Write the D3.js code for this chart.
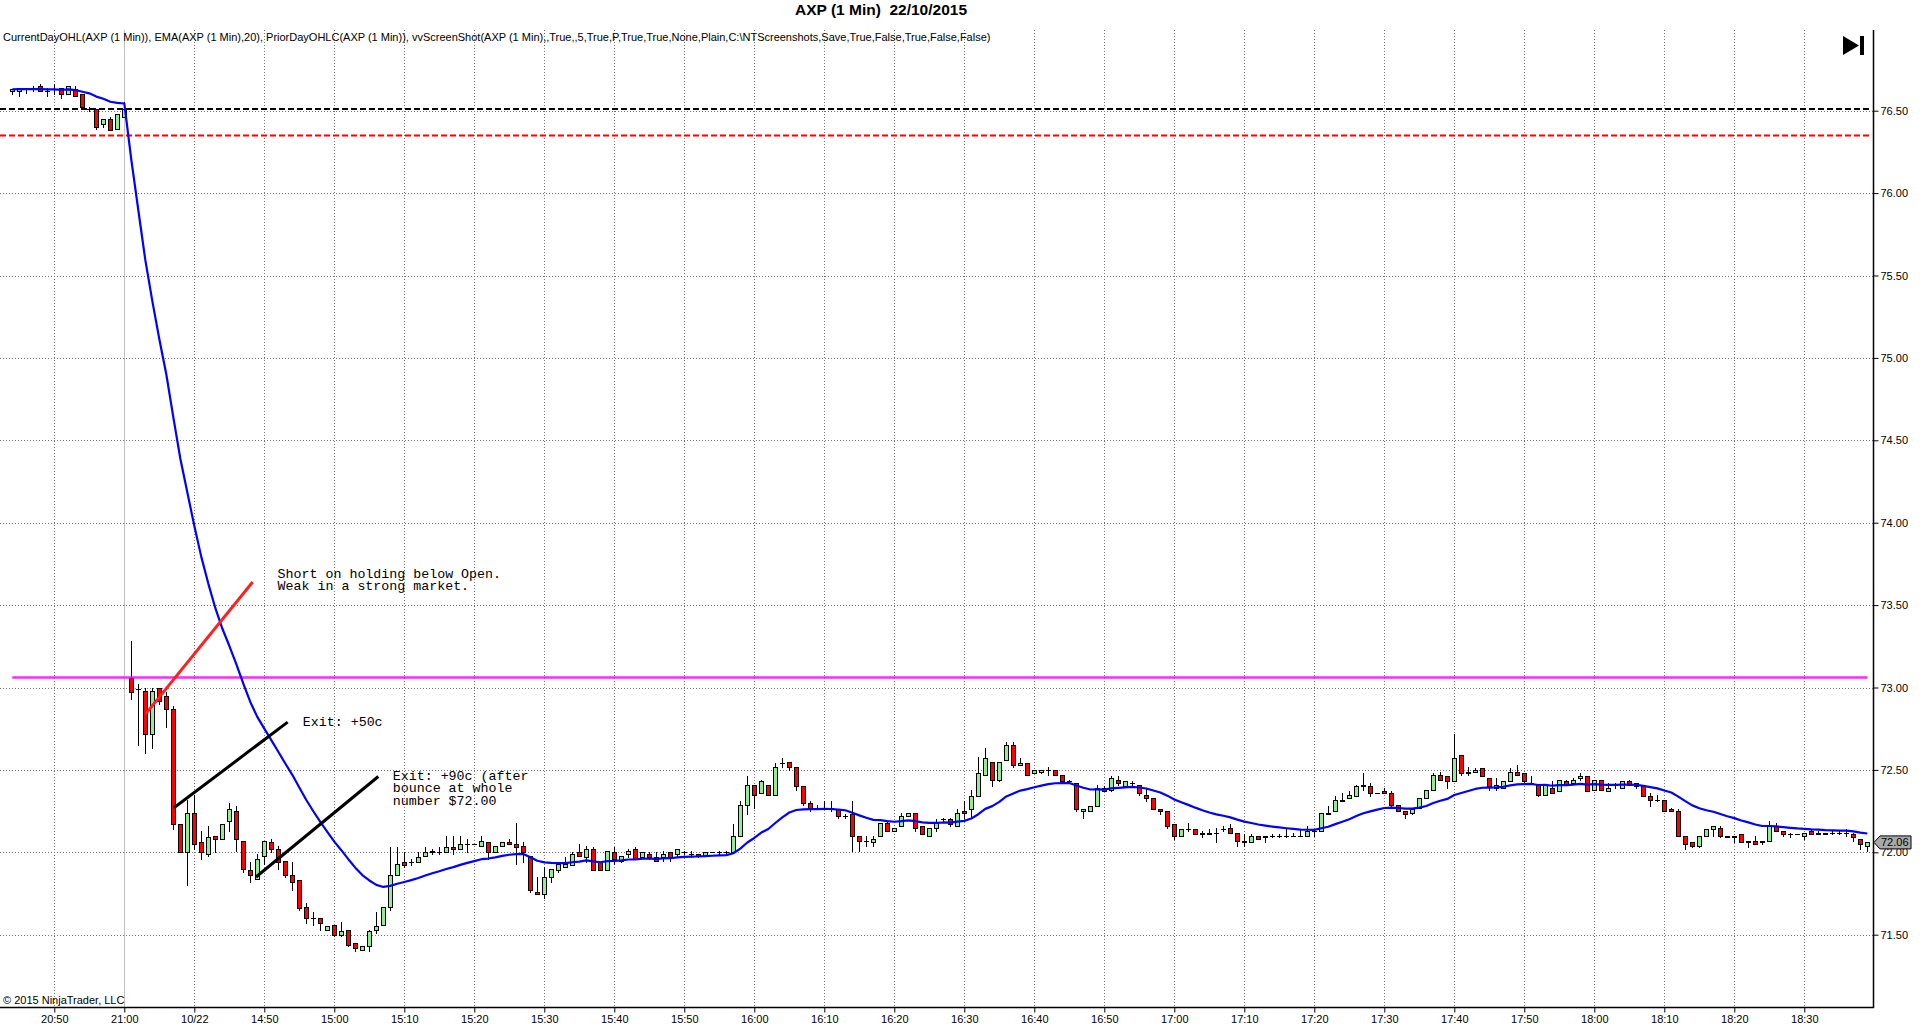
<!DOCTYPE html>
<html>
<head>
<meta charset="utf-8">
<script src="https://cdn.jsdelivr.net/npm/d3@7"></script>
<style>
  body { margin: 0; background: #fff; }
  svg { display: block; font-family: "Liberation Sans", Arial, sans-serif; }
</style>
</head>
<body>
<script>

  // 1 min bars: 20:44-21:00 of the prior session, then 14:31-18:39 on 10/22
  const barOpen = [
    76.62,76.62,76.63,76.64,76.65,76.62,76.63,76.64,76.60,76.63,76.60,76.51,76.51,76.42,76.45,76.39,76.46,
    73.06,72.99,72.98,72.72,73.00,72.95,72.87,72.17,72.00,72.24,
    72.06,71.99,72.10,72.08,72.19,72.25,72.07,71.89,71.84,71.98,
    72.06,72.02,71.95,71.86,71.83,71.67,71.60,71.60,71.53,71.56,
    71.50,71.53,71.45,71.41,71.43,71.53,71.56,71.67,71.86,71.94,
    71.94,71.94,71.98,72.01,72.00,72.00,72.03,72.02,72.05,72.05,
    72.04,72.06,72.00,72.04,72.06,72.05,72.04,71.98,71.76,71.75,
    71.85,71.89,71.91,71.92,72.00,71.97,72.02,71.94,71.89,72.00,
    71.95,71.99,72.02,71.97,71.99,71.97,71.97,72.00,71.99,72.00,
    71.99,71.99,71.98,72.00,72.00,72.00,72.00,72.10,72.29,72.41,
    72.36,72.41,72.35,72.54,72.55,72.52,72.40,72.30,72.27,72.27,
    72.27,72.26,72.22,72.23,72.10,72.07,72.06,72.10,72.18,72.13,
    72.16,72.22,72.24,72.16,72.10,72.15,72.20,72.20,72.16,72.25,
    72.26,72.34,72.47,72.55,72.44,72.56,72.65,72.53,72.54,72.48,
    72.49,72.50,72.50,72.47,72.43,72.42,72.25,72.25,72.28,72.39,
    72.38,72.44,72.40,72.42,72.41,72.35,72.33,72.26,72.25,72.17,
    72.10,72.14,72.14,72.12,72.12,72.12,72.14,72.15,72.12,72.06,
    72.06,72.10,72.09,72.10,72.10,72.10,72.10,72.10,72.10,72.13,
    72.13,72.23,72.25,72.31,72.33,72.34,72.41,72.40,72.36,72.37,
    72.36,72.29,72.25,72.24,72.27,72.33,72.38,72.47,72.46,72.43,
    72.59,72.48,72.49,72.51,72.45,72.39,72.39,72.43,72.49,72.48,
    72.42,72.41,72.35,72.39,72.37,72.43,72.42,72.45,72.46,72.38,
    72.44,72.37,72.41,72.39,72.43,72.42,72.40,72.34,72.32,72.32,
    72.26,72.25,72.10,72.06,72.04,72.10,72.14,72.15,72.10,72.09,
    72.11,72.06,72.07,72.06,72.07,72.16,72.13,72.11,72.11,72.10,
    72.13,72.11,72.12,72.12,72.12,72.12,72.11,72.08,72.04
  ];
  const barHigh = [
    76.63,76.64,76.64,76.65,76.66,76.64,76.66,76.64,76.65,76.65,76.60,76.52,76.51,76.45,76.46,76.48,76.55,
    73.28,73.02,73.00,73.00,73.00,72.97,72.89,72.17,72.32,72.35,
    72.13,72.16,72.10,72.17,72.30,72.28,72.07,71.94,71.99,72.07,
    72.08,72.04,71.95,71.94,71.83,71.69,71.64,71.60,71.55,71.56,
    71.58,71.53,71.45,71.43,71.53,71.64,71.67,72.03,72.03,72.00,
    71.96,72.00,72.03,72.02,72.03,72.10,72.10,72.10,72.08,72.05,
    72.10,72.06,72.04,72.06,72.08,72.18,72.06,71.98,71.85,71.91,
    71.90,71.94,71.97,72.00,72.05,72.04,72.03,71.94,72.01,72.03,
    71.98,72.02,72.03,72.00,72.00,72.00,72.01,72.00,72.02,72.01,
    72.01,71.99,72.00,72.00,72.01,72.01,72.17,72.31,72.46,72.41,
    72.44,72.41,72.54,72.57,72.55,72.52,72.40,72.31,72.29,72.31,
    72.31,72.26,72.23,72.31,72.10,72.10,72.10,72.18,72.19,72.15,
    72.24,72.24,72.24,72.16,72.15,72.20,72.21,72.21,72.26,72.31,
    72.38,72.58,72.63,72.55,72.55,72.67,72.67,72.57,72.54,72.50,
    72.50,72.52,72.50,72.47,72.44,72.42,72.26,72.28,72.41,72.40,
    72.46,72.46,72.43,72.43,72.41,72.39,72.33,72.26,72.25,72.17,
    72.14,72.18,72.14,72.13,72.14,72.15,72.16,72.17,72.12,72.11,
    72.11,72.10,72.10,72.11,72.11,72.14,72.12,72.14,72.16,72.14,
    72.24,72.28,72.34,72.36,72.37,72.41,72.48,72.42,72.36,72.39,
    72.37,72.29,72.25,72.26,72.33,72.38,72.48,72.49,72.46,72.72,
    72.59,72.52,72.51,72.51,72.45,72.45,72.43,72.51,72.53,72.48,
    72.46,72.41,72.41,72.43,72.44,72.44,72.45,72.48,72.46,72.44,
    72.44,72.42,72.42,72.43,72.44,72.42,72.40,72.36,72.35,72.32,
    72.27,72.26,72.10,72.06,72.10,72.14,72.16,72.16,72.10,72.10,
    72.11,72.07,72.10,72.07,72.19,72.18,72.13,72.12,72.11,72.12,
    72.14,72.13,72.12,72.13,72.13,72.14,72.12,72.08,72.06
  ];
  const barLow = [
    76.60,76.59,76.61,76.62,76.62,76.59,76.60,76.58,76.60,76.59,76.51,76.50,76.39,76.40,76.38,76.39,76.46,
    72.93,72.65,72.60,72.63,72.90,72.76,72.14,72.00,71.80,72.02,
    71.96,71.98,72.00,72.08,72.13,72.01,71.88,71.82,71.84,71.93,
    72.00,71.90,71.85,71.77,71.65,71.57,71.56,71.53,71.53,71.49,
    71.49,71.43,71.40,71.41,71.40,71.51,71.56,71.65,71.86,71.91,
    71.92,71.94,71.98,71.99,71.99,72.00,71.99,72.02,72.00,72.05,
    72.04,71.96,72.00,72.04,72.05,71.93,71.94,71.76,71.75,71.72,
    71.82,71.88,71.91,71.92,71.98,71.94,71.89,71.89,71.89,71.93,
    71.94,71.97,71.96,71.97,71.96,71.95,71.95,71.95,71.98,71.99,
    71.97,71.97,71.98,72.00,71.99,71.99,72.00,72.10,72.23,72.27,
    72.36,72.35,72.35,72.52,72.50,72.38,72.29,72.25,72.26,72.26,
    72.25,72.21,72.21,72.01,72.01,72.04,72.04,72.10,72.13,72.13,
    72.16,72.22,72.13,72.11,72.10,72.13,72.19,72.16,72.16,72.21,
    72.21,72.34,72.47,72.40,72.43,72.56,72.52,72.53,72.47,72.48,
    72.48,72.47,72.47,72.43,72.42,72.25,72.21,72.25,72.28,72.37,
    72.37,72.41,72.40,72.41,72.35,72.31,72.26,72.23,72.15,72.08,
    72.10,72.13,72.11,72.09,72.11,72.06,72.13,72.12,72.04,72.04,
    72.06,72.08,72.06,72.09,72.09,72.09,72.10,72.10,72.10,72.10,
    72.13,72.23,72.25,72.31,72.33,72.34,72.38,72.34,72.36,72.36,
    72.28,72.25,72.21,72.23,72.27,72.33,72.38,72.44,72.39,72.43,
    72.47,72.47,72.49,72.46,72.38,72.38,72.39,72.43,72.47,72.42,
    72.42,72.34,72.35,72.36,72.37,72.41,72.42,72.44,72.37,72.38,
    72.38,72.37,72.39,72.39,72.41,72.39,72.34,72.28,72.31,72.25,
    72.25,72.10,72.02,72.03,72.03,72.10,72.10,72.09,72.09,72.06,
    72.06,72.03,72.05,72.05,72.07,72.13,72.10,72.09,72.11,72.08,
    72.11,72.11,72.11,72.11,72.11,72.10,72.07,72.02,72.01
  ];
  const barClose = [
    76.63,76.64,76.63,76.64,76.62,76.62,76.63,76.60,76.65,76.59,76.52,76.51,76.40,76.45,76.38,76.48,76.51,
    72.97,72.99,72.72,72.98,72.92,72.87,72.17,72.00,72.24,72.05,
    72.00,72.09,72.08,72.17,72.26,72.08,71.90,71.86,71.96,72.07,
    72.02,71.94,71.86,71.82,71.66,71.60,71.60,71.57,71.55,71.50,
    71.52,71.44,71.42,71.43,71.52,71.55,71.67,71.86,71.93,71.92,
    71.94,71.97,72.00,72.00,72.00,72.03,72.02,72.05,72.05,72.05,
    72.07,72.00,72.04,72.06,72.05,72.03,72.00,71.77,71.75,71.85,
    71.90,71.93,71.93,71.99,71.98,72.02,71.89,71.89,72.01,71.96,
    71.98,72.01,71.96,72.00,71.97,71.95,71.99,71.97,72.02,72.00,
    71.99,71.98,72.00,72.00,72.00,72.00,72.10,72.29,72.41,72.35,
    72.43,72.35,72.52,72.54,72.52,72.40,72.30,72.27,72.27,72.27,
    72.26,72.22,72.22,72.10,72.07,72.07,72.08,72.18,72.13,72.15,
    72.22,72.24,72.15,72.11,72.15,72.18,72.20,72.17,72.24,72.24,
    72.34,72.48,72.57,72.44,72.55,72.65,72.53,72.54,72.47,72.50,
    72.50,72.50,72.47,72.43,72.43,72.26,72.26,72.28,72.39,72.37,
    72.45,72.42,72.43,72.42,72.36,72.33,72.26,72.25,72.16,72.10,
    72.14,72.14,72.11,72.11,72.11,72.12,72.14,72.12,72.07,72.07,
    72.10,72.08,72.10,72.10,72.10,72.10,72.10,72.10,72.13,72.13,
    72.24,72.24,72.32,72.32,72.35,72.40,72.40,72.36,72.36,72.36,
    72.29,72.25,72.23,72.26,72.33,72.38,72.47,72.44,72.43,72.57,
    72.48,72.49,72.50,72.46,72.40,72.41,72.43,72.49,72.47,72.43,
    72.42,72.35,72.41,72.36,72.44,72.41,72.44,72.46,72.37,72.44,
    72.38,72.39,72.41,72.43,72.41,72.40,72.34,72.32,72.32,72.25,
    72.25,72.10,72.05,72.04,72.10,72.14,72.16,72.10,72.09,72.10,
    72.06,72.07,72.05,72.07,72.16,72.13,72.11,72.11,72.11,72.12,
    72.11,72.12,72.11,72.12,72.12,72.12,72.09,72.05,72.06
  ];

  // prior day (close, low) and current day open
  const priorClose = 76.51;
  const priorLow = 76.35;
  const todayOpen = 73.06;
  const emaPeriod = 20;

  const xTickLabels = ["20:50","21:00","10/22","14:50","15:00","15:10","15:20","15:30","15:40","15:50",
    "16:00","16:10","16:20","16:30","16:40","16:50","17:00","17:10","17:20","17:30",
    "17:40","17:50","18:00","18:10","18:20","18:30"];
  const firstTickBar = 6;     // 20:50 is the 7th bar on screen
  const sessionBreakBar = 16; // 21:00, last bar of the prior session
  const yTicks = [71.5, 72, 72.5, 73, 73.5, 74, 74.5, 75, 75.5, 76, 76.5];

  // drawings on the chart: [bar, price] pairs
  const redLine = [[19.06, 72.84], [34.34, 73.64]];
  const exitLines = [
    [[23.1, 72.27], [39.34, 72.79]],
    [[34.81, 71.85], [52.29, 72.46]]
  ];
  const notes = [
    {bar: 37.9, price: 73.667, lines: ["Short on holding below Open.", "Weak in a strong market."]},
    {bar: 41.5, price: 72.767, lines: ["Exit: +50c"]},
    {bar: 54.35, price: 72.44, lines: ["Exit: +90c (after", "bounce at whole", "number $72.00"]}
  ];

  const width = 1920, height = 1034;
  const plot = {left: 0, right: 1873, top: 30, bottom: 1007};
  const barSpacing = 7, firstBarX = 12.3;

  const svg = d3.select('body')
    .append('svg')
    .attr('width', width)
    .attr('height', height);

  svg.append('rect')
    .attr('width', width)
    .attr('height', height)
    .attr('fill', '#fff');

  let x = d3.scaleLinear()
      .domain([0, 1])
      .range([firstBarX, firstBarX + barSpacing]);

  let y = d3.scaleLinear()
      .domain([71.5, 76.5])
      .range([934.7, 110.7]);

  const bars = barClose.map(function(c, i) {
    return {i: i, o: barOpen[i], h: barHigh[i], l: barLow[i], c: c};
  });
  const lastBar = bars.length - 1;

  // EMA(20) of the closes
  const ema = [];
  const k = 2 / (emaPeriod + 1);
  barClose.forEach(function(c, i) {
    ema.push(i === 0 ? c : ema[i - 1] + k * (c - ema[i - 1]));
  });

  const xTickBars = xTickLabels.map(function(d, j) { return firstTickBar + 10 * j; });

  // grid
  const grid = svg.append('g');
  grid.selectAll('.vgrid')
    .data(xTickBars)
    .enter().append('line')
      .attr('class', 'vgrid')
      .attr('x1', function(d) { return Math.round(x(d)) + 0.5; })
      .attr('x2', function(d) { return Math.round(x(d)) + 0.5; })
      .attr('y1', plot.top)
      .attr('y2', plot.bottom)
      .attr('stroke', function(d) { return d === sessionBreakBar ? '#c0c0c0' : '#777'; })
      .attr('stroke-dasharray', function(d) { return d === sessionBreakBar ? null : '1,2'; });

  grid.selectAll('.hgrid')
    .data(yTicks)
    .enter().append('line')
      .attr('class', 'hgrid')
      .attr('x1', plot.left)
      .attr('x2', plot.right)
      .attr('y1', function(d) { return Math.round(y(d)) + 0.5; })
      .attr('y2', function(d) { return Math.round(y(d)) + 0.5; })
      .attr('stroke', '#777')
      .attr('stroke-dasharray', '1,2');

  // prior day levels
  const levels = [
    {p: priorClose, color: '#000'},
    {p: priorLow, color: '#ff0000'}
  ];
  svg.selectAll('.level')
    .data(levels)
    .enter().append('line')
      .attr('class', 'level')
      .attr('x1', plot.left)
      .attr('x2', x(lastBar) + 3)
      .attr('y1', function(d) { return y(d.p); })
      .attr('y2', function(d) { return y(d.p); })
      .attr('stroke', function(d) { return d.color; })
      .attr('stroke-width', 2)
      .attr('stroke-dasharray', '6,3');

  // candles
  const candle = svg.append('g').selectAll('g')
    .data(bars)
    .enter().append('g');

  candle.append('line')
    .attr('x1', function(d) { return Math.round(x(d.i)) + 0.5; })
    .attr('x2', function(d) { return Math.round(x(d.i)) + 0.5; })
    .attr('y1', function(d) { return Math.round(y(d.h)); })
    .attr('y2', function(d) { return Math.round(y(d.l)) + 1; })
    .attr('stroke', '#000')
    .attr('stroke-width', 1);

  candle.each(function(d) {
    const g = d3.select(this);
    const cx = Math.round(x(d.i));
    const top = Math.round(y(Math.max(d.o, d.c))) + 0.5;
    const bot = Math.round(y(Math.min(d.o, d.c))) + 0.5;
    if (bot - top < 1) {
      g.append('line')
        .attr('x1', cx - 2).attr('x2', cx + 3)
        .attr('y1', top).attr('y2', top)
        .attr('stroke', '#000');
    } else {
      g.append('rect')
        .attr('x', cx - 1.5)
        .attr('y', top)
        .attr('width', 4)
        .attr('height', bot - top)
        .attr('fill', d.c > d.o ? '#90ee90' : '#ff0000')
        .attr('stroke', '#000')
        .attr('stroke-width', 1);
    }
  });

  // current day open
  svg.append('line')
    .attr('x1', x(0))
    .attr('x2', x(lastBar))
    .attr('y1', y(todayOpen))
    .attr('y2', y(todayOpen))
    .attr('stroke', '#ff00ff')
    .attr('stroke-opacity', 0.85)
    .attr('stroke-width', 2.5);

  // EMA
  let emaLine = d3.line()
    .x(function(d, i) { return x(i); })
    .y(function(d) { return y(d); });

  svg.append('path')
    .datum(ema)
    .attr('d', emaLine)
    .attr('fill', 'none')
    .attr('stroke', '#0000ff')
    .attr('stroke-width', 2.2)
    .attr('stroke-linejoin', 'round');

  // hand drawn lines and notes
  let drawLine = d3.line()
    .x(function(d) { return x(d[0]); })
    .y(function(d) { return y(d[1]); });

  svg.append('path')
    .attr('d', drawLine(redLine))
    .attr('stroke', '#ff2020')
    .attr('stroke-width', 3)
    .attr('fill', 'none');

  svg.selectAll('.exit')
    .data(exitLines)
    .enter().append('path')
      .attr('class', 'exit')
      .attr('d', drawLine)
      .attr('stroke', '#000')
      .attr('stroke-width', 3)
      .attr('fill', 'none');

  const note = svg.selectAll('.note')
    .data(notes)
    .enter().append('text')
      .attr('class', 'note')
      .attr('font-family', '"Liberation Mono", "Courier New", monospace')
      .attr('font-size', '13.3px')
      .attr('fill', '#000')
      .attr('xml:space', 'preserve');

  note.selectAll('tspan')
    .data(function(d) { return d.lines.map(function(t, j) { return {t: t, j: j, n: d}; }); })
    .enter().append('tspan')
      .attr('x', function(d) { return x(d.n.bar); })
      .attr('y', function(d) { return y(d.n.price) + d.j * 12.7; })
      .text(function(d) { return d.t; });

  // axes
  const yAxis = d3.axisRight(y)
    .tickValues(yTicks)
    .tickSize(5)
    .tickSizeOuter(0)
    .tickPadding(2)
    .tickFormat(d3.format('.2f'));

  const gy = svg.append('g')
    .attr('transform', 'translate(' + (plot.right + 0.5) + ',0)')
    .call(yAxis);
  gy.select('.domain').remove();
  gy.selectAll('text').attr('font-size', '11px').attr('font-family', '"Liberation Sans", Arial, sans-serif').attr('fill', '#000');

  const xAxis = d3.axisBottom(x)
    .tickValues(xTickBars)
    .tickSize(5)
    .tickSizeOuter(0)
    .tickPadding(3)
    .tickFormat(function(d, j) { return xTickLabels[j]; });

  const gx = svg.append('g')
    .attr('transform', 'translate(0,' + (plot.bottom + 0.5) + ')')
    .call(xAxis);
  gx.select('.domain').remove();
  gx.selectAll('text').attr('font-size', '11px').attr('font-family', '"Liberation Sans", Arial, sans-serif').attr('fill', '#000');

  svg.append('line')
    .attr('x1', plot.right + 0.5).attr('x2', plot.right + 0.5)
    .attr('y1', plot.top).attr('y2', plot.bottom + 1)
    .attr('stroke', '#000').attr('stroke-width', 1.5);
  svg.append('line')
    .attr('x1', plot.left).attr('x2', plot.right + 1)
    .attr('y1', plot.bottom + 0.5).attr('y2', plot.bottom + 0.5)
    .attr('stroke', '#000').attr('stroke-width', 1.5);

  // last price marker
  const lastY = y(barClose[lastBar]);
  svg.append('path')
    .attr('d', 'M' + (plot.right + 1) + ',' + lastY +
      ' L' + (plot.right + 7) + ',' + (lastY - 6.5) +
      ' H' + (plot.right + 38) + ' V' + (lastY + 6.5) +
      ' H' + (plot.right + 7) + ' Z')
    .attr('fill', '#a9a9a9')
    .attr('stroke', '#000');
  svg.append('text')
    .attr('x', plot.right + 8)
    .attr('y', lastY + 4)
    .attr('font-size', '11px')
    .attr('fill', '#000')
    .text(d3.format('.2f')(barClose[lastBar]));

  // header texts
  svg.append('text')
    .attr('x', 881)
    .attr('y', 15)
    .attr('text-anchor', 'middle')
    .attr('font-size', '15.5px')
    .attr('font-weight', 'bold')
    .attr('xml:space', 'preserve')
    .text('AXP (1 Min)  22/10/2015');

  svg.append('text')
    .attr('x', 3)
    .attr('y', 41)
    .attr('font-size', '11px')
    .attr('fill', '#000')
    .text('CurrentDayOHL(AXP (1 Min)), EMA(AXP (1 Min),20), PriorDayOHLC(AXP (1 Min)), vvScreenShot(AXP (1 Min),,True,,5,True,P,True,True,None,Plain,C:\\NTScreenshots,Save,True,False,True,False,False)');

  svg.append('text')
    .attr('x', 3)
    .attr('y', 1004)
    .attr('font-size', '11px')
    .attr('fill', '#000')
    .text('\u00a9 2015 NinjaTrader, LLC');

  // go-to-end button
  svg.append('path')
    .attr('d', 'M1843,36 L1859,45.5 L1843,55 Z')
    .attr('fill', '#000');
  svg.append('rect')
    .attr('x', 1860).attr('y', 36)
    .attr('width', 4).attr('height', 19)
    .attr('fill', '#000');

</script>
</body>
</html>
